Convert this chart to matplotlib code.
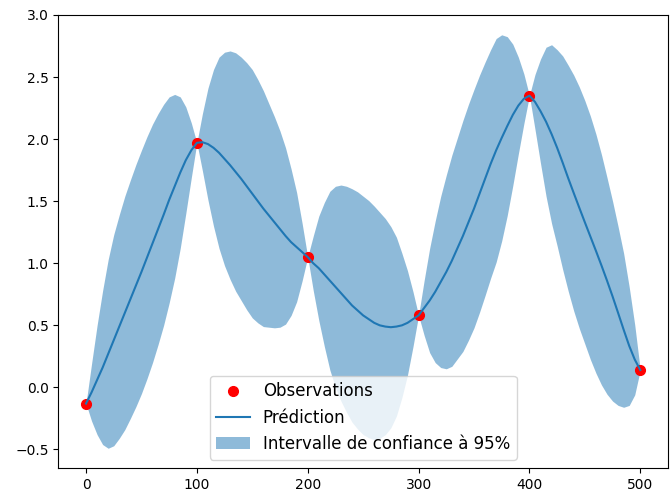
import matplotlib
matplotlib.use("Agg")
import matplotlib.pyplot as plt

# observations
obs_x = [0, 100, 200, 300, 400, 500]
obs_y = [-0.13, 1.97, 1.05, 0.58, 2.35, 0.14]

# prediction and 95% band, every 5 units
pred_x = list(range(0, 505, 5))
pred_y = [
    -0.13, -0.04, 0.06, 0.16, 0.27, 0.38, 0.49, 0.60, 0.71, 0.82,
    0.93, 1.045, 1.16, 1.275, 1.39, 1.51, 1.62, 1.73, 1.83, 1.91,
    1.97, 1.975, 1.96, 1.93, 1.89, 1.84, 1.79, 1.735, 1.68, 1.62,
    1.56, 1.50, 1.44, 1.385, 1.33, 1.275, 1.22, 1.17, 1.13, 1.09,
    1.05, 1.00, 0.96, 0.91, 0.86, 0.81, 0.76, 0.71, 0.66, 0.62,
    0.58, 0.55, 0.52, 0.50, 0.49, 0.485, 0.49, 0.50, 0.52, 0.55,
    0.58, 0.64, 0.70, 0.77, 0.85, 0.93, 1.02, 1.12, 1.22, 1.33,
    1.44, 1.56, 1.68, 1.80, 1.91, 2.01, 2.105, 2.195, 2.27, 2.325,
    2.35, 2.30, 2.225, 2.14, 2.04, 1.93, 1.81, 1.685, 1.565, 1.447,
    1.33, 1.215, 1.10, 0.982, 0.86, 0.733, 0.60, 0.465, 0.335, 0.225,
    0.14]
upper = [
    -0.13, 0.19, 0.50, 0.78, 1.03, 1.23, 1.39, 1.54, 1.67, 1.795,
    1.91, 2.02, 2.12, 2.205, 2.28, 2.34, 2.36, 2.34, 2.26, 2.13,
    1.97, 2.205, 2.41, 2.56, 2.66, 2.70, 2.71, 2.695, 2.66, 2.615,
    2.56, 2.48, 2.39, 2.285, 2.18, 2.065, 1.93, 1.76, 1.57, 1.32,
    1.05, 1.22, 1.38, 1.49, 1.58, 1.62, 1.63, 1.62, 1.60, 1.575,
    1.54, 1.505, 1.46, 1.41, 1.36, 1.295, 1.21, 1.08, 0.94, 0.77,
    0.58, 0.86, 1.12, 1.34, 1.54, 1.71, 1.87, 2.01, 2.15, 2.28,
    2.40, 2.515, 2.62, 2.72, 2.81, 2.84, 2.825, 2.765, 2.66, 2.525,
    2.35, 2.52, 2.645, 2.74, 2.76, 2.72, 2.67, 2.595, 2.515, 2.42,
    2.31, 2.185, 2.04, 1.875, 1.69, 1.50, 1.295, 1.08, 0.81, 0.505,
    0.14]
lower = [
    -0.13, -0.27, -0.38, -0.46, -0.49, -0.47, -0.41, -0.34, -0.25, -0.155,
    -0.05, 0.07, 0.20, 0.345, 0.50, 0.68, 0.88, 1.12, 1.40, 1.69,
    1.97, 1.745, 1.51, 1.30, 1.12, 0.98, 0.87, 0.775, 0.70, 0.625,
    0.56, 0.52, 0.49, 0.485, 0.48, 0.485, 0.51, 0.58, 0.69, 0.86,
    1.05, 0.78, 0.54, 0.33, 0.14, 0.00, -0.11, -0.20, -0.28, -0.335,
    -0.38, -0.405, -0.42, -0.41, -0.38, -0.325, -0.23, -0.08, 0.10, 0.33,
    0.58, 0.42, 0.28, 0.20, 0.16, 0.15, 0.17, 0.23, 0.29, 0.38,
    0.48, 0.605, 0.74, 0.88, 1.01, 1.18, 1.385, 1.625, 1.88, 2.125,
    2.35, 2.08, 1.805, 1.54, 1.32, 1.14, 0.95, 0.775, 0.615, 0.475,
    0.35, 0.225, 0.115, 0.02, -0.055, -0.11, -0.145, -0.16, -0.145, -0.06,
    0.14]

fig = plt.figure(figsize=(6.7, 4.98), dpi=100)
ax = fig.add_subplot(111)
fig.subplots_adjust(left=0.087, right=0.997, top=0.970, bottom=0.060)

ax.plot(obs_x, obs_y, 'ro', markersize=7, label='Observations')
ax.plot(pred_x, pred_y, '-', color='C0', label='Prédiction')
ax.fill_between(pred_x, lower, upper, color='C0', alpha=0.5, linewidth=0,
                label='Intervalle de confiance à 95%')

ax.set_xlim(-25, 525)
ax.set_ylim(-0.65, 3.0)
ax.legend(loc='lower center', fontsize=12)

fig.savefig('out.png', dpi=100)
